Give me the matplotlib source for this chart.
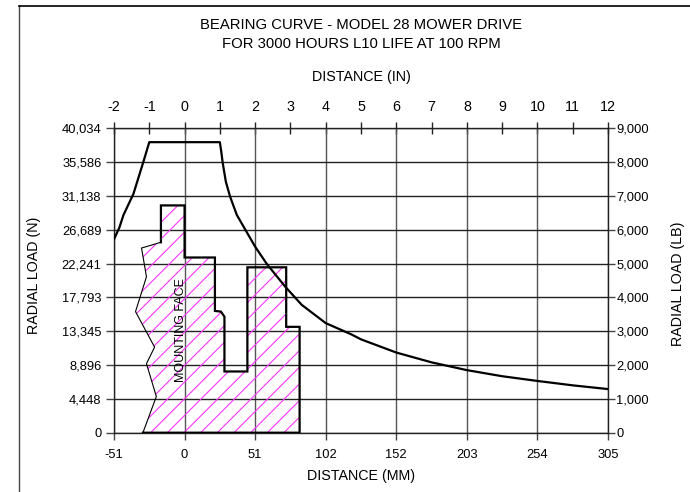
import matplotlib
matplotlib.use("Agg")
import matplotlib.pyplot as plt
from matplotlib.lines import Line2D
from matplotlib.patches import Polygon

plt.rcParams['font.family'] = ['Liberation Sans', 'DejaVu Sans']
plt.rcParams['hatch.linewidth'] = 0.8

# ---- data (inches / lb) ----
curve_in = [-2.0, -1.85, -1.73, -1.45, -1.17, -1.0, 1.0, 1.04, 1.08, 1.17, 1.29, 1.48,
            1.74, 2.0, 2.33, 2.85, 3.32, 4.0, 4.72, 5.0, 6.0, 7.0, 8.0, 9.0, 10.0, 11.0, 12.0]
curve_lb = [5720, 6060, 6440, 7060, 8000, 8590, 8590, 8310, 7980, 7420, 6980, 6440,
            5970, 5500, 4990, 4320, 3780, 3240, 2910, 2760, 2370, 2080, 1850, 1670, 1530, 1400, 1290]

# jagged (thin) left edge of the housing section, bottom to top
jag_in = [-1.18, -0.80, -1.08, -0.85, -1.39, -1.08, -1.22, -0.67]
jag_lb = [0, 1070, 2040, 2530, 3580, 4610, 5460, 5630]
# heavy outline of the housing section, continuing from the jagged edge
out_in = [-0.67, -0.67, 0.0, 0.0, 0.86, 0.86, 1.03, 1.13, 1.13, 1.78, 1.78, 2.88, 2.88, 3.26, 3.26, -1.18]
out_lb = [5630, 6720, 6720, 5180, 5180, 3600, 3580, 3430, 1810, 1810, 4890, 4890, 3130, 3130, 0, 0]

top_ticks = list(range(-2, 13))
top_labels = [str(v) for v in top_ticks]
bottom_ticks = [-2, 0, 2, 4, 6, 8, 10, 12]
bottom_labels = ['-51', '0', '51', '102', '152', '203', '254', '305']
load_ticks = [0, 1000, 2000, 3000, 4000, 5000, 6000, 7000, 8000, 9000]
left_labels = ['0', '4,448', '8,896', '13,345', '17,793', '22,241', '26,689', '31,138', '35,586', '40,034']
right_labels = ['0', '1,000', '2,000', '3,000', '4,000', '5,000', '6,000', '7,000', '8,000', '9,000']

W, H = 690, 492
fig = plt.figure(figsize=(W / 100, H / 100), dpi=100)
L, R, T, B = 114, 608, 128.3, 432.7
ax = fig.add_axes([L / W, (H - B) / H, (R - L) / W, (B - T) / H])
ax.set_xlim(-2, 12)
ax.set_ylim(0, 9000)

fs_tick = 9.3
fs_lab = 10.3
fs_title = 10.7

# grid
for x in bottom_ticks:
    ax.axvline(x, color='#555555', lw=1.0, zorder=1)
for y in load_ticks:
    ax.axhline(y, color='#222222', lw=1.0, zorder=1)

for s in ax.spines.values():
    s.set_color('#222222')
    s.set_linewidth(1.0)

# bottom axis (mm)
ax.set_xticks(bottom_ticks)
ax.set_xticklabels(bottom_labels, fontsize=fs_tick)
ax.tick_params(axis='x', direction='out', length=5, width=1, color='#444444', pad=7)
# left axis (N)
ax.set_yticks(load_ticks)
ax.set_yticklabels(left_labels, fontsize=fs_tick)
ax.tick_params(axis='y', direction='out', length=6, width=1, color='#444444', pad=3)

# top axis (inches)
secx = ax.secondary_xaxis('top')
secx.set_xticks(top_ticks)
secx.set_xticklabels(top_labels, fontsize=fs_lab)
secx.tick_params(direction='inout', length=9, width=1, color='#222222', pad=6)
secx.spines['top'].set_visible(False)

# right axis (lb)
secy = ax.secondary_yaxis('right')
secy.set_yticks(load_ticks)
secy.set_yticklabels(right_labels, fontsize=fs_tick)
secy.tick_params(direction='out', length=5, width=1, color='#444444', pad=1)
secy.spines['right'].set_visible(False)

# hatched housing section
poly_x = jag_in + out_in[1:]
poly_y = jag_lb + out_lb[1:]
ax.add_patch(Polygon(list(zip(poly_x, poly_y)), closed=True, facecolor='none',
                     edgecolor='#ff33ff', hatch='//', lw=0, zorder=2))
ax.plot(jag_in, jag_lb, color='black', lw=0.8, zorder=3)
ax.plot(out_in, out_lb, color='black', lw=1.6, zorder=3, solid_joinstyle='miter')

# bearing curve
ax.plot(curve_in, curve_lb, color='black', lw=1.6, zorder=4)

ax.text(-0.09, 3020, 'MOUNTING FACE', rotation=90, ha='center', va='center',
        fontsize=9, zorder=5)

# titles and axis labels
cx = (L + R) / 2 / W
fig.text(cx, 1 - 25 / H, 'BEARING CURVE - MODEL 28 MOWER DRIVE', ha='center', va='center', fontsize=fs_title)
fig.text(cx, 1 - 44 / H, 'FOR 3000 HOURS L10 LIFE AT 100 RPM', ha='center', va='center', fontsize=fs_title)
fig.text(cx, 1 - 77 / H, 'DISTANCE (IN)', ha='center', va='center', fontsize=fs_lab)
fig.text(cx, 1 - 476 / H, 'DISTANCE (MM)', ha='center', va='center', fontsize=fs_lab)
fig.text(34 / W, 1 - 275 / H, 'RADIAL LOAD (N)', ha='center', va='center', rotation=90, fontsize=fs_lab)
fig.text(678 / W, 1 - 284 / H, 'RADIAL LOAD (LB)', ha='center', va='center', rotation=90, fontsize=fs_lab)

# outer frame (partially visible)
fig.add_artist(Line2D([19 / W, 19 / W], [0, 1 - 6 / H], transform=fig.transFigure, color='#444444', lw=1.0))
fig.add_artist(Line2D([19 / W, 1], [1 - 6 / H, 1 - 6 / H], transform=fig.transFigure, color='black', lw=1.2))

fig.savefig('out.png', dpi=100)
